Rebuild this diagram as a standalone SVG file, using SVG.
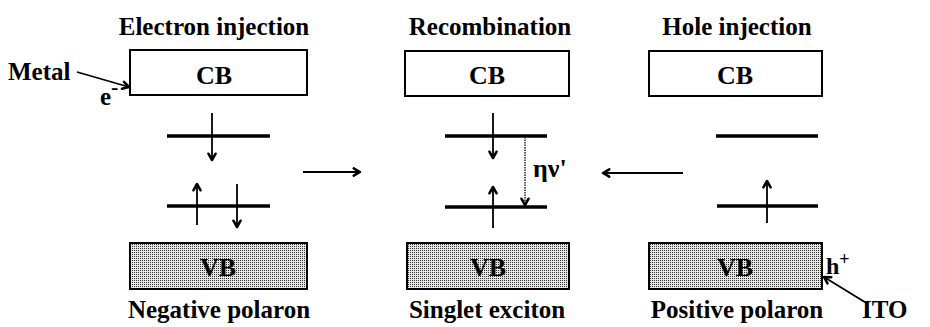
<svg xmlns="http://www.w3.org/2000/svg" width="930" height="327" viewBox="0 0 930 327">
<style>
text{font-family:"Liberation Serif","Times New Roman",serif;fill:#000;font-weight:bold}
.title{font-size:25px;text-anchor:middle}
.band{font-size:26px;text-anchor:middle}
.lbl{font-size:25px;text-anchor:middle}
.box{fill:#fff;stroke:#000;stroke-width:2}
.vb{fill:url(#dots);stroke:#000;stroke-width:2}
.lvl{stroke:#000;stroke-width:3.5;fill:none}
.arr{stroke:#000;stroke-width:1.8;fill:none;marker-end:url(#ah)}
.dot{stroke:#333;stroke-width:1.6;fill:none;stroke-dasharray:1.5 1;marker-end:url(#ah)}
</style>
<defs>
<pattern id="dots" width="2" height="2" patternUnits="userSpaceOnUse">
<rect width="2" height="2" fill="#e6e6e6"/>
<rect width="1" height="1" fill="#333"/>
</pattern>
<marker id="ah" viewBox="0 0 10 10" refX="8.5" refY="5" markerWidth="9" markerHeight="9" markerUnits="userSpaceOnUse" orient="auto" overflow="visible">
<path d="M1.5,1 L8.5,5 L1.5,9" fill="none" stroke="#000" stroke-width="2.8" stroke-linecap="round" stroke-linejoin="round"/>
</marker>
</defs>
<g id="col1">
<text class="title" x="214" y="35">Electron injection</text>
<rect class="box" x="130" y="50" width="177" height="45"/>
<text class="band" x="214" y="84">CB</text>
<line class="lvl" x1="167" y1="136" x2="270" y2="136"/>
<line class="lvl" x1="167" y1="206" x2="270" y2="206"/>
<rect class="vb" x="130" y="243" width="177" height="46"/>
<text class="band" x="218" y="276">VB</text>
<text class="lbl" x="219" y="318">Negative polaron</text>
</g>
<g id="col2">
<text class="title" x="490" y="35">Recombination</text>
<rect class="box" x="405" y="51" width="164" height="45"/>
<text class="band" x="487" y="84">CB</text>
<line class="lvl" x1="445" y1="136" x2="547" y2="136"/>
<line class="lvl" x1="445" y1="207" x2="547" y2="207"/>
<rect class="vb" x="407" y="243" width="162" height="46"/>
<text class="band" x="488" y="276">VB</text>
<text class="lbl" x="487" y="318">Singlet exciton</text>
<text x="533" y="177" style="font-size:26px">ην'</text>
</g>
<g id="col3">
<text class="title" x="737" y="35">Hole injection</text>
<rect class="box" x="649" y="51" width="173" height="45"/>
<text class="band" x="735" y="84">CB</text>
<line class="lvl" x1="716" y1="136" x2="818" y2="136"/>
<line class="lvl" x1="717" y1="206" x2="818" y2="206"/>
<rect class="vb" x="649" y="243" width="173" height="46"/>
<text class="band" x="735" y="276">VB</text>
<text class="lbl" x="737" y="318">Positive polaron</text>
</g>
<g id="metal">
<text x="8" y="80" style="font-size:25px">Metal</text>
<text x="100" y="105" style="font-size:25px">e<tspan dy="-11" font-size="22">-</tspan></text>
</g>
<g id="ito">
<text x="826" y="274" style="font-size:24px">h<tspan dy="-9" font-size="18">+</tspan></text>
<text x="862" y="318" style="font-size:25px">ITO</text>
</g>
<g id="connectors">
<line class="arr" x1="77" y1="72" x2="129" y2="87"/>
<line class="arr" x1="868" y1="304" x2="824" y2="277"/>
<line class="arr" x1="212" y1="113" x2="212" y2="160"/>
<line class="arr" x1="197" y1="225" x2="197" y2="184"/>
<line class="arr" x1="237" y1="184" x2="237" y2="227"/>
<line class="arr" x1="303" y1="172" x2="360" y2="172"/>
<line class="arr" x1="683" y1="173" x2="603" y2="173"/>
<line class="arr" x1="493" y1="113" x2="493" y2="158"/>
<line class="arr" x1="493" y1="228" x2="493" y2="187"/>
<line class="dot" x1="525" y1="137" x2="525" y2="205"/>
<line class="arr" x1="767" y1="223" x2="767" y2="181"/>
</g>
</svg>
